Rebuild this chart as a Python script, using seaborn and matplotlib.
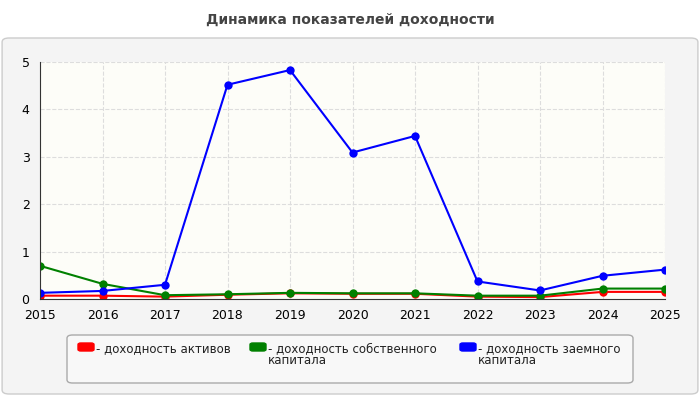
import matplotlib
matplotlib.use("Agg")
import matplotlib.pyplot as plt
import seaborn as sns
import pandas as pd
from matplotlib.patches import FancyBboxPatch

years = [2015, 2016, 2017, 2018, 2019, 2020, 2021, 2022, 2023, 2024, 2025]
assets = [0.07, 0.07, 0.05, 0.09, 0.12, 0.11, 0.11, 0.05, 0.04, 0.15, 0.15]
equity = [0.70, 0.32, 0.08, 0.10, 0.13, 0.12, 0.12, 0.07, 0.07, 0.22, 0.22]
debt = [0.13, 0.17, 0.30, 4.52, 4.83, 3.09, 3.44, 0.37, 0.18, 0.49, 0.62]
names = ["- доходность активов", "- доходность собственного\nкапитала", "- доходность заемного\nкапитала"]
colors = ["#ff0000", "#008000", "#0000ff"]

df = pd.DataFrame({"year": years * 3,
                   "value": assets + equity + debt,
                   "series": [names[0]] * 11 + [names[1]] * 11 + [names[2]] * 11})

sns.set_style("white")
plt.rcParams['font.family'] = ['DejaVu Sans']
fig = plt.figure(figsize=(7, 4), dpi=100)
fig.patch.set_facecolor("white")
bg = FancyBboxPatch((0.003, 0.015), 0.994, 0.89, boxstyle="round,pad=0,rounding_size=0.01",
                    transform=fig.transFigure, facecolor="#f4f4f4", edgecolor="#cccccc", lw=1, zorder=-10)
fig.patches.append(bg)
fig.text(0.5, 0.95, "Динамика показателей доходности", ha="center", va="center",
         fontsize=10, fontweight="bold", color="#444444")

ax = fig.add_axes([40 / 700, 1 - 299 / 400, 625 / 700, 237 / 400])
ax.set_facecolor("#fdfdf8")
sns.lineplot(data=df, x="year", y="value", hue="series", palette=colors, marker="o",
             markersize=6, markeredgewidth=0, linewidth=1.5, ax=ax, legend=False)
ax.set_xlim(2015, 2025)
ax.set_ylim(0, 5)
ax.set_xticks(years)
ax.set_yticks([0, 1, 2, 3, 4, 5])
ax.grid(True, color="#dddddd", linestyle="--", linewidth=0.8)
ax.set_xlabel("")
ax.set_ylabel("")
ax.tick_params(labelsize=9, length=4, colors="black")
for s in ["top", "right"]:
    ax.spines[s].set_visible(False)
for s in ["left", "bottom"]:
    ax.spines[s].set_color("#333333")

# legend
fig.patches.append(FancyBboxPatch((67 / 700, 1 - 383 / 400), 566 / 700, 48 / 400,
                                  boxstyle="round,pad=0,rounding_size=0.008", transform=fig.transFigure,
                                  facecolor="#f8f8f8", edgecolor="#aaaaaa", lw=1))
xs = [78, 250, 460]
for x, name, c in zip(xs, names, colors):
    fig.patches.append(FancyBboxPatch((x / 700, 1 - 351 / 400), 16 / 700, 8 / 400,
                                      boxstyle="round,pad=0,rounding_size=0.004", transform=fig.transFigure,
                                      facecolor=c, edgecolor=c))
    fig.text((x + 18) / 700, 1 - 342 / 400, name, ha="left", va="top", fontsize=8.5,
             color="#222222", linespacing=0.95)

plt.savefig("out.png", dpi=100)
